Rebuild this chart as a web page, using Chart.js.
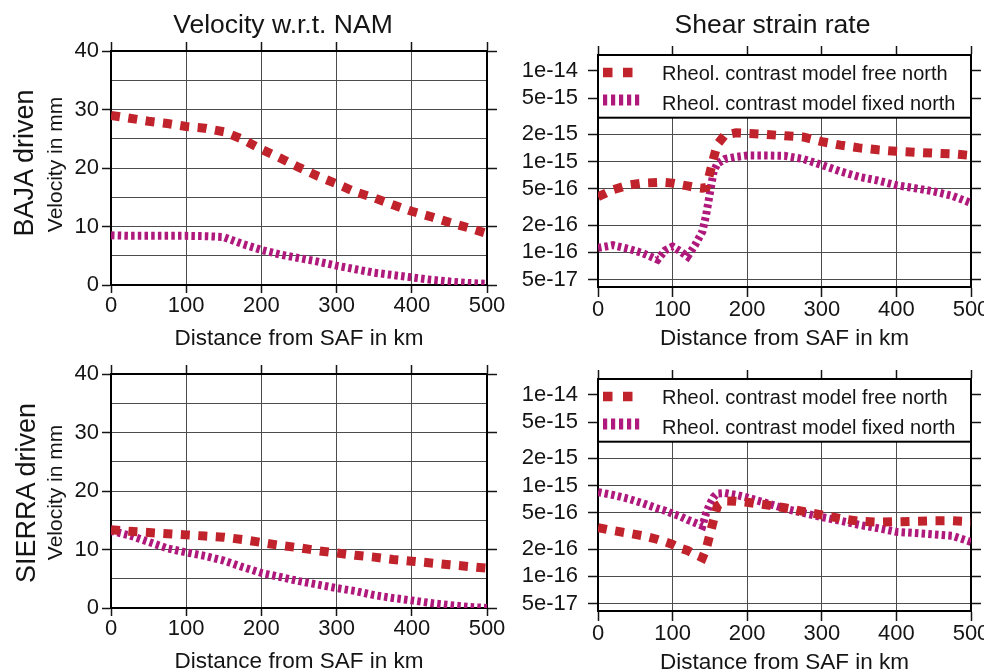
<!DOCTYPE html>
<html><head><meta charset="utf-8">
<script src="https://cdn.jsdelivr.net/npm/chart.js@4.4.1/dist/chart.umd.min.js"></script>
<style>
html,body{margin:0;padding:0;background:#fff;overflow:hidden;}
#wrap{position:relative;width:984px;height:672px;overflow:hidden;background:#fff;}
canvas{position:absolute;}
#overlay{position:absolute;left:0;top:0;}
</style></head><body>
<div id="wrap">
<canvas id="velBaja" width="510" height="352" style="left:0;top:0"></canvas>
<canvas id="strainBaja" width="494" height="352" style="left:490px;top:0"></canvas>
<canvas id="velSierra" width="510" height="352" style="left:0;top:323px"></canvas>
<canvas id="strainSierra" width="494" height="352" style="left:490px;top:324px"></canvas>
<svg id="overlay" width="984" height="672" xmlns="http://www.w3.org/2000/svg"></svg>
</div>
<script>
// ---------------- data ----------------
const columnTitles = ['Velocity w.r.t. NAM', 'Shear strain rate'];
const rowTitles = ['BAJA driven', 'SIERRA driven'];
const velocityAxisTitle = 'Velocity in mm';
const distanceAxisTitle = 'Distance from SAF in km';
const seriesNames = ['Rheol. contrast model free north', 'Rheol. contrast model fixed north'];

const distanceTicks = [0, 100, 200, 300, 400, 500];
const distanceTickLabels = ['0', '100', '200', '300', '400', '500'];
const velocityTickLabels = ['0', '10', '20', '30', '40'];
const strainTicks = [1e-14, 5e-15, 2e-15, 1e-15, 5e-16, 2e-16, 1e-16, 5e-17];
const strainTickLabels = ['1e-14', '5e-15', '2e-15', '1e-15', '5e-16', '2e-16', '1e-16', '5e-17'];

const velDistance = [0,25,50,75,100,125,150,175,200,225,250,275,300,325,350,375,400,425,450,475,500];
const bajaVelFree   = [29.0,28.5,28.0,27.6,27.1,26.8,26.2,24.9,23.2,21.7,20.1,18.6,17.3,15.9,14.9,13.7,12.6,11.7,10.7,9.8,8.8];
const bajaVelFixed  = [8.5,8.4,8.4,8.4,8.4,8.35,8.2,7.0,6.0,5.2,4.6,4.0,3.3,2.7,2.1,1.7,1.3,0.9,0.6,0.35,0.2];
const sierraVelFree = [13.4,13.1,12.9,12.7,12.5,12.3,12.1,11.7,11.2,10.7,10.3,9.8,9.4,9.0,8.7,8.3,8.0,7.7,7.4,7.1,6.8];
const sierraVelFixed= [13.2,12.4,11.3,10.2,9.5,8.9,8.1,7.0,6.0,5.3,4.6,4.0,3.4,2.9,2.2,1.7,1.3,0.85,0.5,0.2,0.0];

const strainDistance = [0,20,40,60,80,90,100,110,120,130,140,145,150,155,160,170,185,200,225,250,275,300,325,350,375,400,425,450,475,500];
const bajaStrainFree = [4.1e-16,4.9e-16,5.5e-16,5.8e-16,5.9e-16,5.9e-16,5.8e-16,5.6e-16,5.4e-16,5.2e-16,
  5.1e-16,5.2e-16,7.5e-16,1.1e-15,1.55e-15,1.97e-15,2.08e-15,2.05e-15,2.0e-15,1.93e-15,
  1.87e-15,1.66e-15,1.52e-15,1.42e-15,1.35e-15,1.30e-15,1.27e-15,1.24e-15,1.22e-15,1.17e-15];
const bajaStrainFixed = [1.12e-16,1.2e-16,1.1e-16,9.8e-17,8.3e-17,1.05e-16,1.16e-16,1.03e-16,9.0e-17,1.2e-16,
  1.7e-16,2.6e-16,4.5e-16,7.8e-16,9.5e-16,1.07e-15,1.13e-15,1.17e-15,1.17e-15,1.16e-15,
  1.07e-15,9.2e-16,7.8e-16,6.8e-16,6.2e-16,5.5e-16,5.1e-16,4.7e-16,4.2e-16,3.5e-16];
const sierraStrainFree = [3.45e-16,3.2e-16,3.0e-16,2.8e-16,2.55e-16,2.4e-16,2.25e-16,2.05e-16,1.93e-16,1.75e-16,
  1.6e-16,2.0e-16,2.9e-16,4.2e-16,6.0e-16,6.8e-16,6.75e-16,6.55e-16,6.15e-16,5.7e-16,
  5.2e-16,4.75e-16,4.35e-16,4.05e-16,3.95e-16,4.0e-16,4.05e-16,4.1e-16,4.1e-16,4.0e-16];
const sierraStrainFixed = [8.5e-16,7.9e-16,7.2e-16,6.4e-16,5.6e-16,5.3e-16,4.9e-16,4.6e-16,4.2e-16,3.9e-16,
  3.6e-16,5.0e-16,6.3e-16,7.5e-16,8.2e-16,8.3e-16,7.9e-16,7.4e-16,6.45e-16,5.6e-16,
  5.0e-16,4.5e-16,4.1e-16,3.7e-16,3.4e-16,3.1e-16,3.0e-16,2.9e-16,2.8e-16,2.4e-16];

// ---------------- style ----------------
const FONT = "'Liberation Sans', Arial, Helvetica, sans-serif";
const RED = '#c0232b';
const MAGENTA = '#b0197c';
const GRID = '#4c4c4c';
const INK = '#151515';
const TICK_SIZE = 22;
const redStyle = {borderColor: RED, borderWidth: 9, borderDash: [9, 8.5]};
const magStyle = {borderColor: MAGENTA, borderWidth: 8, borderDash: [3.5, 3.2]};

function pts(xs, ys) { return xs.map((x, i) => ({x: x, y: ys[i]})); }
function datasets(xs, free, fixed) {
  const base = {pointRadius: 0, fill: false, tension: 0, borderCapStyle: 'butt', borderJoinStyle: 'miter'};
  return [
    Object.assign({label: seriesNames[0], data: pts(xs, free)}, base, redStyle),
    Object.assign({label: seriesNames[1], data: pts(xs, fixed)}, base, magStyle)
  ];
}
function xScales(tickLen, height) {
  return {
    x: {
      type: 'linear', position: 'bottom', min: 0, max: 500,
      afterBuildTicks: s => { s.ticks = distanceTicks.map(v => ({value: v})); },
      ticks: {font: {family: FONT, size: TICK_SIZE}, color: INK, padding: 0, maxRotation: 0, autoSkip: false,
              callback: (v) => distanceTickLabels[distanceTicks.indexOf(v)]},
      grid: {color: GRID, lineWidth: 1, tickLength: tickLen, tickColor: INK, tickWidth: 1.5, z: -1},
      border: {color: '#000', width: 2},
      title: {display: true, text: distanceAxisTitle, font: {family: FONT, size: 22.5}, color: INK, padding: 0},
      afterFit: s => { s.height = height; s.paddingLeft = 0; s.paddingRight = 0; }
    },
    xTop: {
      type: 'linear', position: 'top', min: 0, max: 500,
      afterBuildTicks: s => { s.ticks = distanceTicks.map(v => ({value: v})); },
      ticks: {display: false},
      grid: {drawOnChartArea: false, tickLength: 9, tickColor: INK, tickWidth: 1.5, z: -1},
      border: {color: '#000', width: 2},
      afterFit: s => { s.height = 9; s.paddingLeft = 0; s.paddingRight = 0; }
    }
  };
}
const common = {
  options: {
    responsive: false, animation: false, devicePixelRatio: 1, events: [],
    plugins: {legend: {display: false}, tooltip: {enabled: false}, title: {display: false}}
  }
};

function velocityChart(id, free, fixed) {
  const scales = xScales(8, 67);
  scales.y = {
    type: 'linear', position: 'left', min: 0, max: 40,
    ticks: {stepSize: 5, font: {family: FONT, size: TICK_SIZE}, color: INK, padding: 3, autoSkip: false,
            callback: (v) => (v % 10 === 0 ? velocityTickLabels[v / 10] : '')},
    grid: {color: GRID, lineWidth: 1, tickLength: 9, tickWidth: 1.5, z: -1,
           tickColor: c => (c.tick && c.tick.value % 10 === 0 ? INK : 'rgba(0,0,0,0)')},
    border: {color: '#000', width: 2},
    afterFit: s => { s.width = 111; s.paddingTop = 0; s.paddingBottom = 0; }
  };
  scales.yRight = {
    type: 'linear', position: 'right', min: 0, max: 40,
    ticks: {stepSize: 10, display: false},
    grid: {drawOnChartArea: false, tickLength: 10, tickColor: INK, tickWidth: 1.5, z: -1},
    border: {color: '#000', width: 2},
    afterFit: s => { s.width = 12; }
  };
  return new Chart(document.getElementById(id), {
    type: 'line',
    data: {datasets: datasets(velDistance, free, fixed)},
    options: Object.assign({}, common.options, {
      layout: {padding: {left: 0, top: 42, right: 11, bottom: 0}},
      scales: scales
    })
  });
}

function strainChart(id, free, fixed) {
  const scales = xScales(10, 65);
  const logRange = {min: 4.15e-17, max: 1.5e-14};
  scales.y = Object.assign({
    type: 'logarithmic', position: 'left',
    afterBuildTicks: s => { s.ticks = strainTicks.map(v => ({value: v})); },
    ticks: {font: {family: FONT, size: TICK_SIZE}, color: INK, padding: 10, autoSkip: false,
            callback: (v) => strainTickLabels[strainTicks.indexOf(v)]},
    grid: {color: GRID, lineWidth: 1, tickLength: 10, tickColor: INK, tickWidth: 1.5, z: -1},
    border: {color: '#000', width: 2},
    afterFit: s => { s.width = 108; s.paddingTop = 0; s.paddingBottom = 0; }
  }, logRange);
  scales.yRight = Object.assign({
    type: 'logarithmic', position: 'right',
    afterBuildTicks: s => { s.ticks = strainTicks.map(v => ({value: v})); },
    ticks: {display: false},
    grid: {drawOnChartArea: false, tickLength: 10, tickColor: INK, tickWidth: 1.5, z: -1},
    border: {color: '#000', width: 2},
    afterFit: s => { s.width = 10; }
  }, logRange);
  return new Chart(document.getElementById(id), {
    type: 'line',
    data: {datasets: datasets(strainDistance, free, fixed)},
    options: Object.assign({}, common.options, {
      layout: {padding: {left: 0, top: 46, right: 3, bottom: 0}},
      scales: scales
    })
  });
}

velocityChart('velBaja', bajaVelFree, bajaVelFixed);
strainChart('strainBaja', bajaStrainFree, bajaStrainFixed);
velocityChart('velSierra', sierraVelFree, sierraVelFixed);
strainChart('strainSierra', sierraStrainFree, sierraStrainFixed);

// ---------------- text overlay & legends ----------------
const NS = 'http://www.w3.org/2000/svg';
const svg = document.getElementById('overlay');
function el(tag, attrs, text) {
  const e = document.createElementNS(NS, tag);
  for (const k in attrs) e.setAttribute(k, attrs[k]);
  if (text !== undefined) e.textContent = text;
  svg.appendChild(e);
  return e;
}
const tAttr = {'font-family': "Liberation Sans, Arial, Helvetica, sans-serif", fill: INK};
el('text', Object.assign({x: 283, y: 33, 'text-anchor': 'middle', 'font-size': 26.5}, tAttr), columnTitles[0]);
el('text', Object.assign({x: 772.5, y: 33, 'text-anchor': 'middle', 'font-size': 26.5}, tAttr), columnTitles[1]);
el('text', Object.assign({transform: 'translate(33,163) rotate(-90)', 'text-anchor': 'middle', 'font-size': 27}, tAttr), rowTitles[0]);
el('text', Object.assign({transform: 'translate(35,493) rotate(-90)', 'text-anchor': 'middle', 'font-size': 27}, tAttr), rowTitles[1]);
el('text', Object.assign({transform: 'translate(62,164.5) rotate(-90)', 'text-anchor': 'middle', 'font-size': 21}, tAttr), velocityAxisTitle);
el('text', Object.assign({transform: 'translate(62,492.5) rotate(-90)', 'text-anchor': 'middle', 'font-size': 21}, tAttr), velocityAxisTitle);

function legend(dy) {
  el('rect', {x: 598, y: 55 + dy, width: 373, height: 62.7, fill: '#fff', stroke: '#000', 'stroke-width': 2});
  el('line', {x1: 603, y1: 72.5 + dy, x2: 634, y2: 72.5 + dy, stroke: RED, 'stroke-width': 9.5, 'stroke-dasharray': '9.5 10.5'});
  el('line', {x1: 603, y1: 100 + dy, x2: 640, y2: 100 + dy, stroke: MAGENTA, 'stroke-width': 11, 'stroke-dasharray': '4.2 3.8'});
  el('text', Object.assign({x: 662, y: 80 + dy, 'font-size': 20}, tAttr), seriesNames[0]);
  el('text', Object.assign({x: 662, y: 110 + dy, 'font-size': 20}, tAttr), seriesNames[1]);
}
legend(0);
legend(324);
</script>
</body></html>
